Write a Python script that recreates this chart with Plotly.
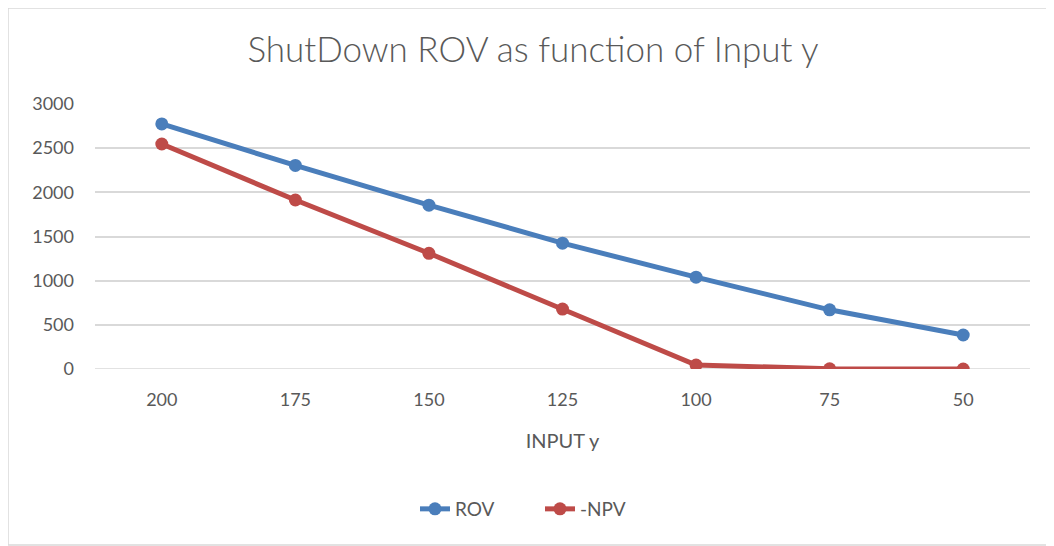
import plotly.graph_objects as go

# データ
input_y = ["200", "175", "150", "125", "100", "75", "50"]
rov = [2775, 2305, 1855, 1425, 1040, 670, 385]
npv = [2547, 1913, 1310, 678, 45, 3, 0]

# ページの余白(8px)を差し引いた図のサイズ
OFF = 8
W, H = 1054 - OFF, 546 - OFF
L, R, T, B = 95 - OFF, 24, 104 - OFF, 177
pw, ph = W - L - R, H - T - B

def px_x(x):
    return (x - OFF - L) / pw

def px_y(y):
    return (H - B - (y - OFF)) / ph

fig = go.Figure()

for name, vals, color in zip(["ROV", "-NPV"], [rov, npv], ["#4a7ebb", "#be4b48"]):
    fig.add_trace(go.Scatter(
        x=input_y, y=vals, name=name, mode="lines+markers",
        line={"color": color, "width": 5},
        marker={"color": color, "size": 13},
    ))

# グラフ枠
frame = {"type": "line", "xref": "paper", "yref": "paper",
         "line": {"color": "#d9d9d9", "width": 1.5}}
fig.update_layout(shapes=[
    dict(frame, x0=px_x(8), x1=px_x(8), y0=px_y(8), y1=px_y(545)),
    dict(frame, x0=px_x(8), x1=px_x(1060), y0=px_y(8), y1=px_y(8)),
    dict(frame, x0=px_x(8), x1=px_x(1060), y0=px_y(545), y1=px_y(545)),
])

font = "Lato, Open Sans, sans-serif"
fig.update_layout(
    width=W, height=H,
    margin={"l": L, "r": R, "t": T, "b": B},
    paper_bgcolor="white", plot_bgcolor="white",
    font={"family": font, "color": "#595959", "size": 18},
    title={"text": "ShutDown ROV as function of Input y",
           "xref": "paper", "x": px_x(533), "xanchor": "center",
           "y": 1 - (50 - OFF) / H, "yanchor": "middle",
           "font": {"size": 35, "color": "#595959", "weight": 300}},
    xaxis={"type": "category", "range": [-0.5, len(input_y) - 0.5],
           "showgrid": False, "zeroline": False,
           "ticks": "", "ticklabelstandoff": 18,
           "title": {"text": "INPUT y", "standoff": 24, "font": {"size": 20}}},
    yaxis={"range": [0, 3000], "dtick": 500, "showgrid": True,
           "gridcolor": "#d9d9d9", "gridwidth": 1.5, "zeroline": False,
           "ticks": "", "ticklabelstandoff": 20},
    legend={"orientation": "h", "x": px_x(540), "xanchor": "center",
            "y": px_y(509), "yanchor": "middle", "font": {"size": 19},
            "entrywidth": 80},
    hovermode=False,
)
fig.add_hline(y=0, line={"color": "#d9d9d9", "width": 1.5}, layer="below")

fig.write_html("out.html")
